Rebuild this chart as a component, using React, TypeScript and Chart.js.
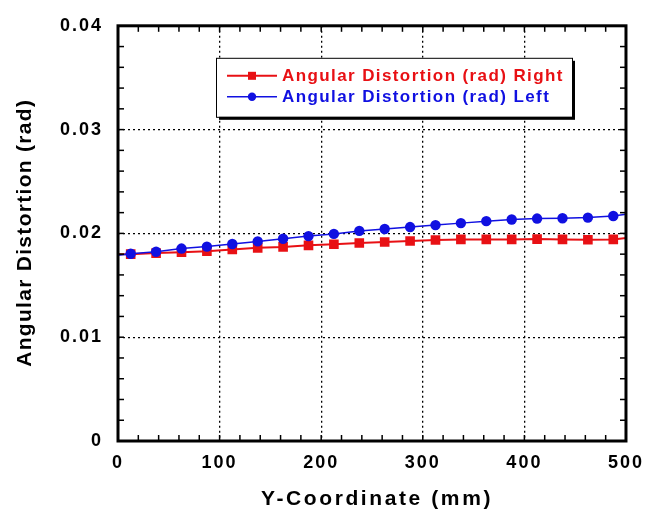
import { useEffect, useRef } from 'react';
import { Chart, registerables } from 'chart.js';

Chart.register(...registerables);

const xPositions = [12.5, 37.5, 62.5, 87.5, 112.5, 137.5, 162.5, 187.5, 212.5, 237.5, 262.5, 287.5, 312.5, 337.5, 362.5, 387.5, 412.5, 437.5, 462.5, 487.5];
const rightValues = [0.0180, 0.01810, 0.01819, 0.01829, 0.01845, 0.01861, 0.01870, 0.01885, 0.01895, 0.01908, 0.01917, 0.01927, 0.01936, 0.01942, 0.01942, 0.01942, 0.01945, 0.01942, 0.01939, 0.01942];
const leftValues = [0.01804, 0.01823, 0.01854, 0.01873, 0.01898, 0.01923, 0.01948, 0.01974, 0.01995, 0.02024, 0.02042, 0.02061, 0.02080, 0.02099, 0.02118, 0.02134, 0.02143, 0.02146, 0.02152, 0.02168];
const lineStartX = 0;
const lineEndX = 500;
const rightStart = 0.0180;
const rightEnd = 0.01955;
const leftStart = 0.0179;
const leftEnd = 0.02185;

const xTickLabels = ['0', '100', '200', '300', '400', '500'];
const yTickLabels = ['0', '0.01', '0.02', '0.03', '0.04'];
const seriesLabels = ['Angular Distortion (rad) Right', 'Angular Distortion (rad) Left'];
const xTitle = 'Y-Coordinate (mm)';
const yTitle = 'Angular Distortion (rad)';

const RED = 'rgb(232,16,20)';
const BLUE = 'rgb(16,16,225)';
const FONT = '"Liberation Sans", Arial, Helvetica, sans-serif';

function buildSeries(start: number, values: number[], end: number) {
  return [
    { x: lineStartX, y: start },
    ...xPositions.map((x, i) => ({ x, y: values[i] })),
    { x: lineEndX, y: end },
  ];
}

const framePlugin = {
  id: 'frameLegend',
  beforeDraw(chart: any) {
    const ctx = chart.ctx;
    ctx.save();
    ctx.fillStyle = '#fff';
    ctx.fillRect(0, 0, chart.width, chart.height);
    ctx.restore();
    ctx.letterSpacing = '2px';
  },
  afterDraw(chart: any) {
    const { ctx, chartArea: a, scales } = chart;
    ctx.letterSpacing = '0px';
    ctx.save();
    ctx.strokeStyle = '#000';
    ctx.lineWidth = 1.5;
    const tl = 6;
    const line = (x1: number, y1: number, x2: number, y2: number) => {
      ctx.beginPath();
      ctx.moveTo(x1, y1);
      ctx.lineTo(x2, y2);
      ctx.stroke();
    };
    scales.x.ticks.forEach((t: any) => {
      const px = scales.x.getPixelForValue(t.value);
      if (px <= a.left + 1 || px >= a.right - 1) return;
      line(px, a.bottom, px, a.bottom - tl);
      line(px, a.top, px, a.top + tl);
    });
    scales.y.ticks.forEach((t: any) => {
      const py = scales.y.getPixelForValue(t.value);
      if (py <= a.top + 1 || py >= a.bottom - 1) return;
      line(a.left, py, a.left + tl, py);
      line(a.right, py, a.right - tl, py);
    });
    ctx.lineWidth = 3;
    ctx.strokeRect(a.left, a.top, a.right - a.left, a.bottom - a.top);

    // axis titles
    ctx.fillStyle = '#000';
    ctx.font = `bold 21px ${FONT}`;
    ctx.textAlign = 'center';
    ctx.textBaseline = 'middle';
    ctx.letterSpacing = '2.6px';
    ctx.fillText(xTitle, (a.left + a.right) / 2 + 5, 499);
    ctx.save();
    ctx.translate(25, (a.top + a.bottom) / 2);
    ctx.rotate(-Math.PI / 2);
    ctx.letterSpacing = '1.3px';
    ctx.fillText(yTitle, 0.6, 0);
    ctx.restore();
    ctx.letterSpacing = '0px';

    // legend
    const bx = a.left + 98;
    const by = a.top + 32;
    const bw = 356;
    const bh = 59;
    ctx.fillStyle = '#000';
    ctx.fillRect(bx + 3, by + 3, bw, bh);
    ctx.fillStyle = '#fff';
    ctx.fillRect(bx, by, bw, bh);
    ctx.lineWidth = 1;
    ctx.strokeStyle = '#000';
    ctx.strokeRect(bx + 0.5, by + 0.5, bw, bh);

    const rows = [
      { y: by + 18, color: RED, style: 'rect', width: 2, label: chart.data.datasets[0].label },
      { y: by + 39, color: BLUE, style: 'circle', width: 1.5, label: chart.data.datasets[1].label },
    ];
    rows.forEach((r) => {
      ctx.strokeStyle = r.color;
      ctx.fillStyle = r.color;
      ctx.lineWidth = r.width;
      line(bx + 11, r.y, bx + 61, r.y);
      const mx = bx + 36;
      if (r.style === 'rect') {
        ctx.fillRect(mx - 4, r.y - 4, 8, 8);
      } else {
        ctx.beginPath();
        ctx.arc(mx, r.y, 4.2, 0, Math.PI * 2);
        ctx.fill();
      }
      ctx.font = `bold 17px ${FONT}`;
      ctx.letterSpacing = '1.4px';
      ctx.textBaseline = 'middle';
      ctx.textAlign = 'left';
      ctx.fillText(r.label, bx + 66, r.y + 1);
      ctx.letterSpacing = '0px';
    });
    ctx.restore();
  },
};

export default function App() {
  const ref = useRef<HTMLCanvasElement | null>(null);

  useEffect(() => {
    if (!ref.current) return;
    const nRight = rightValues.length;
    const nLeft = leftValues.length;
    const chart = new Chart(ref.current, {
      type: 'line',
      data: {
        datasets: [
          {
            label: seriesLabels[0],
            data: buildSeries(rightStart, rightValues, rightEnd),
            borderColor: RED,
            backgroundColor: RED,
            borderWidth: 2,
            pointStyle: 'rect',
            pointRadius: (c: any) => (c.dataIndex === 0 || c.dataIndex === nRight + 1 ? 0 : 6.8),
            pointBorderWidth: 0,
            tension: 0,
            order: 1,
          },
          {
            label: seriesLabels[1],
            data: buildSeries(leftStart, leftValues, leftEnd),
            borderColor: BLUE,
            backgroundColor: BLUE,
            borderWidth: 1.5,
            pointStyle: 'circle',
            pointRadius: (c: any) => (c.dataIndex === 0 || c.dataIndex === nLeft + 1 ? 0 : 5.2),
            pointBorderWidth: 0,
            tension: 0,
            order: 0,
          },
        ],
      },
      options: {
        responsive: false,
        animation: false,
        devicePixelRatio: 1,
        layout: { padding: { top: 16, right: 16, left: 0, bottom: 0 } },
        plugins: { legend: { display: false }, tooltip: { enabled: false } },
        scales: {
          x: {
            type: 'linear',
            min: 0,
            max: 500,
            afterFit: (s: any) => { s.height = 76; },
            ticks: {
              stepSize: 20,
              autoSkip: false,
              maxRotation: 0,
              padding: 11,
              color: '#000',
              font: { family: FONT, size: 18, weight: 'bold' },
              callback: (_v: any, i: number) => (i % 5 === 0 ? xTickLabels[i / 5] : ''),
            },
            grid: {
              drawTicks: false,
              color: '#000',
              lineWidth: (c: any) => (c.index % 5 === 0 && c.index !== 0 && c.index !== 25 ? 1.3 : 0),
            },
            border: { display: false, dash: [2, 3] },
            title: { display: false, text: xTitle },
          },
          y: {
            type: 'linear',
            min: 0,
            max: 0.04,
            afterFit: (s: any) => { s.width = 118; },
            ticks: {
              stepSize: 0.002,
              autoSkip: false,
              padding: 15,
              color: '#000',
              font: { family: FONT, size: 18, weight: 'bold' },
              callback: (_v: any, i: number) => (i % 5 === 0 ? yTickLabels[i / 5] : ''),
            },
            grid: {
              drawTicks: false,
              color: '#000',
              lineWidth: (c: any) => (c.index % 5 === 0 && c.index !== 0 && c.index !== 20 ? 1.3 : 0),
            },
            border: { display: false, dash: [2, 3] },
            title: { display: false, text: yTitle },
          },
        },
      },
      plugins: [framePlugin],
    } as any);
    return () => chart.destroy();
  }, []);

  return (
    <div style={{ position: 'fixed', left: 0, top: 0, width: 652, height: 517, background: '#fff' }}>
      <canvas ref={ref} width={652} height={517} style={{ display: 'block' }} />
    </div>
  );
}
